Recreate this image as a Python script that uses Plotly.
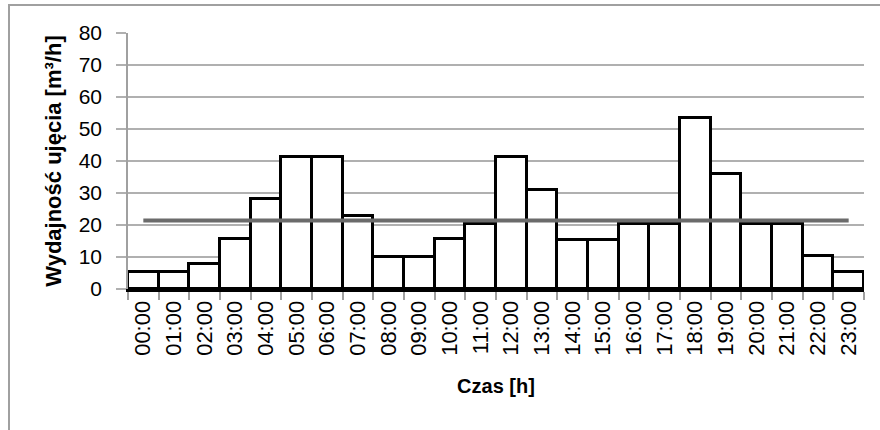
import plotly.graph_objects as go

hours = ["00:00", "01:00", "02:00", "03:00", "04:00", "05:00", "06:00", "07:00",
         "08:00", "09:00", "10:00", "11:00", "12:00", "13:00", "14:00", "15:00",
         "16:00", "17:00", "18:00", "19:00", "20:00", "21:00", "22:00", "23:00"]
flow = [5.3, 5.3, 7.8, 15.7, 28.2, 41.1, 41.1, 22.7, 10.0, 10.0, 15.6, 20.3,
        41.1, 30.9, 15.4, 15.4, 20.3, 20.3, 53.4, 35.8, 20.3, 20.3, 10.4, 5.4]
mean_flow = [21.4] * len(hours)
y_ticks = [0, 10, 20, 30, 40, 50, 60, 70, 80]

W, H = 880, 430
L, R, T, B = 128, 16, 33, 141
pw, ph = W - L - R, H - T - B

font = "Liberation Sans"

fig = go.Figure()
fig.add_trace(go.Bar(
    x=hours, y=flow,
    marker=dict(color="white", line=dict(color="black", width=3)),
    showlegend=False, hoverinfo="x+y",
))
fig.add_trace(go.Scatter(
    x=hours, y=mean_flow, mode="lines",
    line=dict(color="#6b6b6b", width=4),
    showlegend=False,
))

fig.update_layout(
    width=W, height=H,
    margin=dict(l=L, r=R, t=T, b=B, autoexpand=False),
    paper_bgcolor="white", plot_bgcolor="white",
    bargap=0,
    font=dict(family=font, color="black"),
    shapes=[dict(
        type="rect", xref="paper", yref="paper",
        x0=(9 - L) / pw, x1=(W + 5 - L) / pw,
        y0=-(B + 5) / ph, y1=1 + (T - 5) / ph,
        line=dict(color="#a0a0a0", width=2), fillcolor="rgba(0,0,0,0)",
        layer="below",
    )],
)

fig.update_xaxes(
    type="category",
    tickangle=-90,
    tickfont=dict(size=22, family=font),
    ticks="outside", ticklen=8, tickcolor="#a0a0a0", tickwidth=1.5,
    tickson="boundaries",
    showgrid=False,
    showline=True, linecolor="black", linewidth=3,
    title=dict(text="<b>Czas [h]</b>", font=dict(size=20, family=font), standoff=25),
    automargin=False,
    fixedrange=True,
)
fig.update_yaxes(
    range=[0, 80],
    tickvals=y_ticks,
    tickfont=dict(size=21, family=font),
    ticks="outside", ticklen=10, tickcolor="#b0b0b0", tickwidth=1.5,
    ticklabelstandoff=10,
    showgrid=True, gridcolor="#b0b0b0", gridwidth=1.5,
    showline=True, linecolor="#a0a0a0", linewidth=1.5,
    zeroline=False,
    title=dict(text="<b>Wydajność ujęcia [m³/h]</b>", font=dict(size=22, family=font), standoff=11),
    automargin=False,
    fixedrange=True,
)

fig.write_html("out.html", config={"displayModeBar": False},
               post_script="document.body.style.margin='0';")
